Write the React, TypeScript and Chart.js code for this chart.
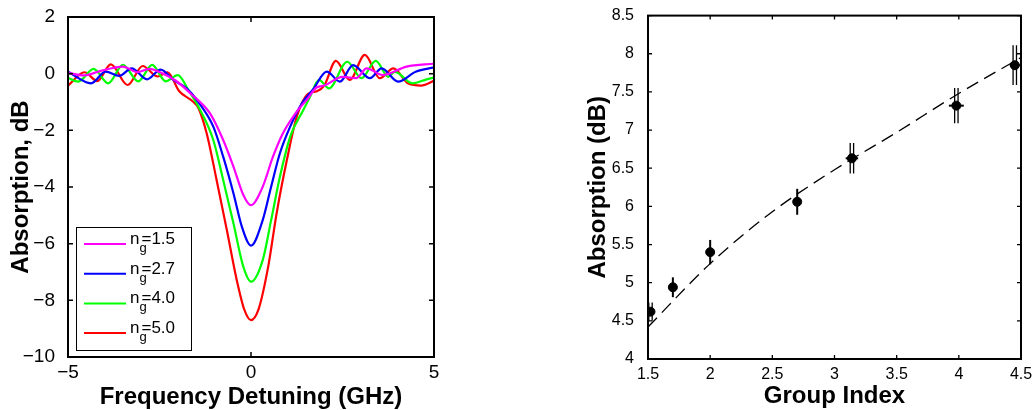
import React, { useEffect, useRef } from "react";
import { Chart, registerables } from "chart.js";

Chart.register(...registerables);

const FONT = '"Liberation Sans", Arial, Helvetica, sans-serif';

// ---------------- Left panel: absorption spectra ----------------
const seriesNames = ["1.5", "2.7", "4.0", "5.0"];
const seriesColors = ["#ff00ff", "#0000ff", "#00ff00", "#ff0000"];

const magentaX = [-5, -4.55, -4.1, -3.5, -3.1, -2.78, -2.4, -2.05, -1.66, -1.12, -0.76, -0.48, -0.21, 0, 0.32, 0.6, 0.87, 1.25, 1.52, 1.8, 2.0, 2.5, 2.88, 3.16, 3.6, 4.25, 5];
const magentaY = [0.03, -0.06, 0.1, 0.25, 0.05, 0.17, 0.0, -0.25, -0.69, -1.4, -2.34, -3.28, -4.28, -4.64, -3.99, -2.93, -2.11, -1.34, -0.93, -0.48, -0.42, -0.11, -0.16, 0.19, -0.05, 0.25, 0.35];

const blueX = [-5, -4.37, -3.97, -3.6, -3.26, -2.84, -2.47, -2.12, -1.76, -1.48, -1.03, -0.76, -0.48, -0.25, 0, 0.32, 0.55, 0.79, 1.07, 1.39, 1.7, 2.07, 2.43, 2.79, 3.25, 3.57, 4.02, 4.5, 5];
const blueY = [0.07, -0.34, 0.07, -0.08, 0.19, -0.2, 0.14, -0.22, -0.52, -0.93, -1.87, -2.93, -4.22, -5.4, -6.07, -5.17, -3.99, -2.81, -1.87, -1.05, -0.55, 0.07, -0.28, 0.3, -0.16, 0.19, -0.28, 0.07, 0.22];

const greenX = [-5, -4.72, -4.3, -3.9, -3.5, -3.08, -2.7, -2.33, -2.0, -1.71, -1.39, -1.03, -0.76, -0.48, -0.21, 0, 0.32, 0.55, 0.79, 1.07, 1.43, 1.6, 1.86, 2.13, 2.63, 3.02, 3.41, 3.75, 3.93, 4.41, 4.8, 5];
const greenY = [-0.15, -0.28, 0.17, -0.34, 0.31, -0.27, 0.31, -0.27, -0.05, -0.58, -1.28, -2.34, -3.75, -5.28, -6.81, -7.34, -6.58, -5.17, -3.64, -2.23, -1.28, -0.85, -0.22, -0.52, 0.42, -0.16, 0.45, -0.11, 0.06, -0.34, -0.2, -0.14];

const redX = [-5, -4.55, -4.2, -3.83, -3.37, -2.96, -2.55, -2.28, -1.96, -1.58, -1.44, -1.21, -0.94, -0.66, -0.39, -0.18, 0, 0.2, 0.47, 0.7, 0.98, 1.25, 1.55, 1.8, 2.0, 2.32, 2.7, 3.11, 3.52, 3.89, 4.3, 4.65, 5];
const redY = [-0.42, 0.05, -0.26, 0.33, -0.4, 0.27, -0.1, 0.05, -0.62, -0.99, -1.2, -2.11, -3.75, -5.52, -7.28, -8.34, -8.7, -8.34, -6.81, -4.93, -3.05, -1.52, -0.72, -0.62, -0.42, 0.45, -0.22, 0.66, -0.16, 0.19, -0.35, -0.42, -0.25];

const spectraX = [magentaX, blueX, greenX, redX];
const spectraY = [magentaY, blueY, greenY, redY];

// ---------------- Right panel: absorption vs group index ----------------
const groupIndex = [1.52, 1.7, 2.0, 2.7, 3.14, 3.98, 4.45];
const absorptionDb = [4.62, 4.94, 5.4, 6.06, 6.63, 7.32, 7.85];
const absorptionErr = [0.12, 0.13, 0.16, 0.17, 0.2, 0.23, 0.26];
const groupIndexErr = [0.02, 0, 0, 0, 0.05, 0.06, 0.04];
const doubledBar = [true, false, false, false, true, true, true];
const fitX = [1.5, 2.0, 2.5, 3.0, 3.5, 4.0, 4.5];
const fitY = [4.42, 5.25, 5.93, 6.48, 6.97, 7.48, 7.95];

const toPoints = (xs: number[], ys: number[]) => xs.map((x, i) => ({ x, y: ys[i] }));
const withMinus = (v: number | string) => String(v).replace("-", "\u2212");
const plainNum = (v: number | string) => String(Math.round(Number(v) * 100) / 100);

const framePlugin = {
  id: "boxFrame",
  afterDraw(chart: any, _args: any, opts: any) {
    const { ctx, chartArea } = chart;
    const { left, right, top, bottom } = chartArea;
    const xs = chart.scales.x;
    const ys = chart.scales.y;
    const len = opts.tick || 5;
    ctx.save();
    ctx.strokeStyle = "#000";
    ctx.lineWidth = opts.tickWidth || 1.5;
    ctx.beginPath();
    xs.ticks.forEach((t: any) => {
      const p = xs.getPixelForValue(t.value);
      ctx.moveTo(p, bottom);
      ctx.lineTo(p, bottom - len);
      ctx.moveTo(p, top);
      ctx.lineTo(p, top + len);
    });
    ys.ticks.forEach((t: any) => {
      const p = ys.getPixelForValue(t.value);
      ctx.moveTo(left, p);
      ctx.lineTo(left + len, p);
      ctx.moveTo(right, p);
      ctx.lineTo(right - len, p);
    });
    ctx.stroke();
    ctx.lineWidth = opts.width || 2;
    ctx.strokeRect(left, top, right - left, bottom - top);
    ctx.restore();
  },
};

const ngLegendPlugin = {
  id: "ngLegend",
  afterDatasetsDraw(chart: any) {
    const { ctx, chartArea } = chart;
    const bx = chartArea.left + 8;
    const by = chartArea.bottom - 130;
    const bw = 115;
    const bh = 123;
    ctx.save();
    ctx.fillStyle = "#fff";
    ctx.fillRect(bx, by, bw, bh);
    ctx.strokeStyle = "#000";
    ctx.lineWidth = 1;
    ctx.strokeRect(bx + 0.5, by + 0.5, bw, bh);
    chart.data.datasets.forEach((ds: any, i: number) => {
      const ly = by + 17 + i * 29.7;
      ctx.strokeStyle = ds.borderColor;
      ctx.lineWidth = 2;
      ctx.beginPath();
      ctx.moveTo(bx + 8, ly);
      ctx.lineTo(bx + 50, ly);
      ctx.stroke();
      ctx.fillStyle = "#000";
      ctx.textAlign = "left";
      ctx.textBaseline = "alphabetic";
      const tx = bx + 54;
      ctx.font = `17px ${FONT}`;
      ctx.fillText("n", tx, ly);
      const nw = ctx.measureText("n").width;
      ctx.font = `13px ${FONT}`;
      ctx.fillText("g", tx + nw, ly + 8);
      ctx.font = `17px ${FONT}`;
      ctx.fillText("=" + seriesNames[i], tx + nw + 2, ly);
    });
    ctx.restore();
  },
};

const errorBarPlugin = {
  id: "errorBars",
  afterDatasetsDraw(chart: any) {
    const { ctx } = chart;
    const xs = chart.scales.x;
    const ys = chart.scales.y;
    ctx.save();
    ctx.strokeStyle = "#000";
    groupIndex.forEach((gx, i) => {
      const px = xs.getPixelForValue(gx);
      const y1 = ys.getPixelForValue(absorptionDb[i] - absorptionErr[i]);
      const y2 = ys.getPixelForValue(absorptionDb[i] + absorptionErr[i]);
      const offs = doubledBar[i] ? [-1.7, 1.7] : [0];
      ctx.lineWidth = doubledBar[i] ? 1.3 : 2;
      ctx.beginPath();
      offs.forEach((o) => {
        ctx.moveTo(px + o, y1);
        ctx.lineTo(px + o, y2);
      });
      ctx.stroke();
      if (groupIndexErr[i] > 0) {
        const py = ys.getPixelForValue(absorptionDb[i]);
        ctx.lineWidth = 2;
        ctx.beginPath();
        ctx.moveTo(xs.getPixelForValue(gx - groupIndexErr[i]), py);
        ctx.lineTo(xs.getPixelForValue(gx + groupIndexErr[i]), py);
        ctx.stroke();
      }
    });
    ctx.restore();
  },
};

function LeftChart() {
  const ref = useRef<HTMLCanvasElement>(null);
  useEffect(() => {
    const chart = new Chart(ref.current as HTMLCanvasElement, {
      type: "line",
      data: {
        datasets: spectraX.map((xs, i) => ({
          label: "n_g=" + seriesNames[i],
          data: toPoints(xs, spectraY[i]),
          borderColor: seriesColors[i],
          backgroundColor: seriesColors[i],
          borderWidth: 2.2,
          pointRadius: 0,
          cubicInterpolationMode: "monotone" as const,
          fill: false,
        })),
      },
      options: {
        responsive: false,
        animation: false,
        devicePixelRatio: 1,
        layout: { padding: { top: 17, right: 16, left: 0, bottom: 0 } },
        plugins: {
          legend: { display: false },
          tooltip: { enabled: false },
          boxFrame: { tick: 5, width: 2, tickWidth: 1.5 },
        } as any,
        scales: {
          x: {
            type: "linear",
            min: -5,
            max: 5,
            grid: { display: false },
            border: { display: false },
            ticks: {
              stepSize: 5,
              autoSkip: false,
              maxRotation: 0,
              padding: -3.5,
              color: "#000",
              font: { size: 19, family: FONT },
              callback: (v: any) => withMinus(v),
            },
            title: {
              display: true,
              text: "Frequency Detuning (GHz)",
              color: "#000",
              font: { size: 24, weight: "bold", family: FONT, lineHeight: 1 },
              padding: { top: 0, bottom: 1 },
            },
            afterFit: (s: any) => {
              s.height = 53;
            },
          },
          y: {
            type: "linear",
            min: -10,
            max: 2,
            grid: { display: false },
            border: { display: false },
            ticks: {
              stepSize: 2,
              autoSkip: false,
              padding: 5,
              color: "#000",
              font: { size: 19, family: FONT },
              callback: (v: any) => withMinus(v),
            },
            title: {
              display: true,
              text: "Absorption, dB",
              color: "#000",
              font: { size: 24, weight: "bold", family: FONT, lineHeight: 1 },
              padding: { top: 9.5, bottom: 0 },
            },
            afterFit: (s: any) => {
              s.width = 68;
            },
          },
        },
      } as any,
      plugins: [framePlugin, ngLegendPlugin],
    });
    return () => chart.destroy();
  }, []);
  return (
    <canvas
      ref={ref}
      width={450}
      height={410}
      style={{ position: "absolute", left: 0, top: 0, width: 450, height: 410 }}
    />
  );
}

function RightChart() {
  const ref = useRef<HTMLCanvasElement>(null);
  useEffect(() => {
    const chart = new Chart(ref.current as HTMLCanvasElement, {
      type: "scatter",
      data: {
        datasets: [
          {
            label: "Measured",
            data: toPoints(groupIndex, absorptionDb),
            pointRadius: 4.5,
            pointBackgroundColor: "#000",
            pointBorderColor: "#000",
            borderColor: "#000",
            showLine: false,
          },
          {
            label: "Fit",
            data: toPoints(fitX, fitY),
            showLine: true,
            borderColor: "#000",
            borderWidth: 1.3,
            borderDash: [13, 7],
            pointRadius: 0,
            cubicInterpolationMode: "monotone" as const,
          },
        ],
      },
      options: {
        responsive: false,
        animation: false,
        devicePixelRatio: 1,
        layout: { padding: { top: 15, right: 11, left: 0, bottom: 0 } },
        plugins: {
          legend: { display: false },
          tooltip: { enabled: false },
          boxFrame: { tick: 4, width: 2, tickWidth: 1.3 },
        } as any,
        scales: {
          x: {
            type: "linear",
            min: 1.5,
            max: 4.5,
            grid: { display: false },
            border: { display: false },
            ticks: {
              stepSize: 0.5,
              autoSkip: false,
              maxRotation: 0,
              padding: -2,
              color: "#000",
              font: { size: 16, family: FONT },
              callback: (v: any) => plainNum(v),
            },
            title: {
              display: true,
              text: "Group Index",
              color: "#000",
              font: { size: 24, weight: "bold", family: FONT, lineHeight: 1 },
              padding: { top: 0, bottom: 2 },
            },
            afterFit: (s: any) => {
              s.height = 51;
            },
          },
          y: {
            type: "linear",
            min: 4,
            max: 8.5,
            grid: { display: false },
            border: { display: false },
            ticks: {
              stepSize: 0.5,
              autoSkip: false,
              padding: 6,
              color: "#000",
              font: { size: 16, family: FONT },
              callback: (v: any) => plainNum(v),
            },
            title: {
              display: true,
              text: "Absorption (dB)",
              color: "#000",
              font: { size: 24, weight: "bold", family: FONT, lineHeight: 1 },
              padding: { top: 26, bottom: 0 },
            },
            afterFit: (s: any) => {
              s.width = 88;
            },
          },
        },
      } as any,
      plugins: [framePlugin, errorBarPlugin],
    });
    return () => chart.destroy();
  }, []);
  return (
    <canvas
      ref={ref}
      width={472}
      height={410}
      style={{ position: "absolute", left: 560, top: 0, width: 472, height: 410 }}
    />
  );
}

export default function App() {
  return (
    <div
      style={{
        position: "absolute",
        left: 0,
        top: 0,
        width: 1032,
        height: 410,
        background: "#fff",
        overflow: "hidden",
      }}
    >
      <LeftChart />
      <RightChart />
    </div>
  );
}
